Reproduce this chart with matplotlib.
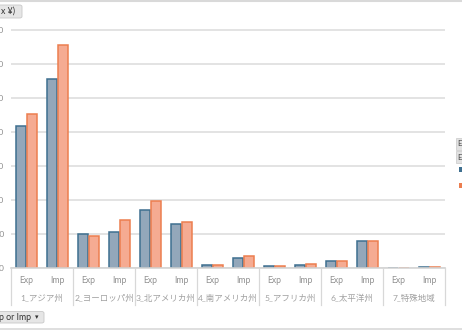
import matplotlib
matplotlib.use("Agg")
import matplotlib.pyplot as plt
from matplotlib.patches import Rectangle, FancyBboxPatch
import numpy as np

plt.rcParams['font.family'] = ['Lato', 'Noto Sans CJK JP', 'DejaVu Sans']

regions = ["1_アジア州", "2_ヨーロッパ州", "3_北アメリカ州", "4_南アメリカ州",
           "5_アフリカ州", "6_太平洋州", "7_特殊地域"]
flows = ["Exp", "Imp"]
# values per (region, flow): blue series and orange series
blue_vals = [4.17, 5.56, 1.00, 1.06, 1.72, 1.31, 0.11, 0.30, 0.08, 0.10, 0.22, 0.80, 0.0, 0.03]
orange_vals = [4.52, 6.56, 0.94, 1.41, 1.98, 1.35, 0.11, 0.37, 0.08, 0.14, 0.22, 0.80, 0.0, 0.03]
ytick_vals = [0, 1, 2, 3, 4, 5, 6, 7]
ytick_labels = ["0", "10,000", "20,000", "30,000", "40,000", "50,000", "60,000", "70,000"]

W, H = 462, 330
fig = plt.figure(figsize=(W / 100, H / 100), dpi=100)
fig.patch.set_facecolor("white")

def fx(px):
    return px / W

def fy(py):
    return 1 - py / H

left_px, right_px = 11, 445
base_px, top_px = 268.3, 24
ax = fig.add_axes([fx(left_px), fy(base_px), fx(right_px - left_px), (base_px - top_px) / H])
unit = 34.1
ax.set_ylim(0, (base_px - top_px) / unit)
ax.set_xlim(0, 14)
for s in ax.spines.values():
    s.set_visible(False)
ax.set_xticks([])
ax.set_yticks(ytick_vals)
ax.set_yticklabels(ytick_labels, fontsize=6, color="#8c8c8c")
ax.tick_params(axis="y", length=0, pad=5)
ax.grid(axis="y", color="#e3e3e3", linewidth=1.4)
ax.set_axisbelow(True)

x = np.arange(14) + 0.5
bw = 0.32
ax.bar(x - 0.19, blue_vals, width=bw, color="#93a7ba", edgecolor="#3e6f8f", linewidth=1.1, zorder=3)
ax.bar(x + 0.19, orange_vals, width=bw, color="#f5ab92", edgecolor="#ec7e4f", linewidth=1.1, zorder=3)

# header area (x-axis table)
hax = fig.add_axes([fx(left_px), fy(306), fx(right_px - left_px), (306 - base_px) / H])
hax.set_xlim(0, 14)
hax.set_ylim(306, base_px)
hax.axis("off")
hax.plot([0, 14], [base_px, base_px], color="#d4d4d4", lw=1.2, clip_on=False)
for k in range(8):
    hax.plot([2 * k, 2 * k], [base_px, 305], color="#d8d8d8", lw=0.9, clip_on=False)
for i in range(14):
    hax.text(i + 0.5, 280.5, flows[i % 2], ha="center", va="center", fontsize=6.2, color="#919191")
for r, name in enumerate(regions):
    hax.text(2 * r + 1, 298, name, ha="center", va="center", fontsize=6.1, color="#a0a0a0")

# top line and button
fig.add_artist(plt.Line2D([0, 1], [fy(1), fy(1)], color="#d9d9d9", lw=1.5))
fig.add_artist(FancyBboxPatch((fx(-4), fy(18)), fx(26), (13) / H, boxstyle="round,pad=0,rounding_size=0.005",
                              facecolor="#e6e6e6", edgecolor="#c8c8c8", lw=0.6))
fig.text(fx(1), fy(11.5), "x ¥)", fontsize=6.3, color="#333333", ha="left", va="center")

# bottom button and line
fig.add_artist(FancyBboxPatch((fx(-4), fy(323)), fx(48), 11.5 / H, boxstyle="round,pad=0,rounding_size=0.005",
                              facecolor="#e6e6e6", edgecolor="#c8c8c8", lw=0.6))
fig.text(fx(-1), fy(317), "p or Imp", fontsize=6.3, color="#333333", ha="left", va="center")
fig.text(fx(37), fy(317), "▾", fontsize=5, color="#333333", ha="center", va="center", family="DejaVu Sans")
fig.add_artist(plt.Line2D([0, 1], [fy(329), fy(329)], color="#d9d9d9", lw=1.2))

# legend fragments on the right
for yy in (138, 151):
    fig.add_artist(Rectangle((fx(456), fy(yy + 12)), fx(10), 12 / H, facecolor="#e2e2e2", edgecolor="#c8c8c8", lw=0.5))
    fig.text(fx(457.5), fy(yy + 6), "E", fontsize=5.5, color="#444444", ha="left", va="center")
fig.add_artist(Rectangle((fx(459), fy(172)), fx(6), 5 / H, facecolor="#3e6f8f", edgecolor="none"))
fig.add_artist(Rectangle((fx(459), fy(188)), fx(6), 5 / H, facecolor="#ec7e4f", edgecolor="none"))

fig.savefig("out.png", dpi=100)
